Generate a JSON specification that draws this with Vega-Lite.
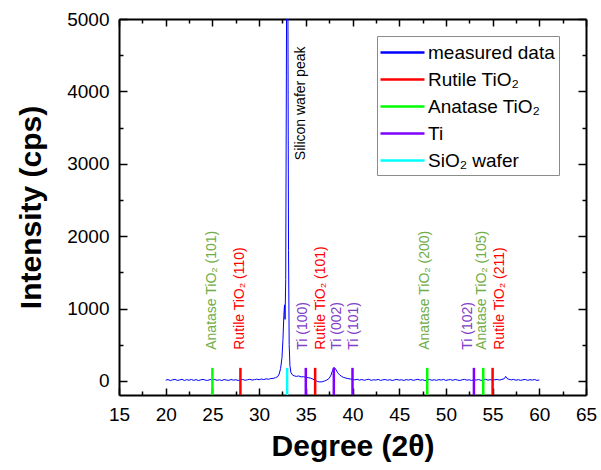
{
  "$schema": "https://vega.github.io/schema/vega-lite/v6.json",
  "width": 467,
  "height": 376,
  "autosize": {"type": "none"},
  "padding": {"left": 119, "top": 19, "right": 15, "bottom": 75},
  "background": "white",
  "config": {
    "font": "Liberation Sans",
    "view": {"stroke": null},
    "axis": {
      "domainColor": "black",
      "domainWidth": 2,
      "tickColor": "black",
      "tickWidth": 1.5,
      "labelFont": "Liberation Sans",
      "labelFontSize": 19,
      "labelColor": "black",
      "titleFont": "Liberation Sans",
      "titleFontSize": 30,
      "titleFontWeight": "bold",
      "titleColor": "black",
      "grid": false,
      "labelOverlap": false,
      "labelFlush": false
    },
    "legend": {
      "orient": "none",
      "legendX": 258,
      "legendY": 17,
      "symbolType": "M-2,0H2",
      "symbolSize": 484,
      "symbolStrokeWidth": 2.5,
      "symbolOffset": 9,
      "labelFont": "Liberation Sans",
      "labelFontSize": 19,
      "labelColor": "black",
      "labelOffset": 13,
      "rowPadding": 4,
      "padding": 4,
      "strokeColor": "#8c8c8c",
      "fillColor": "white",
      "labelLimit": 300
    }
  },
  "datasets": {
    "measured": [
      {"deg": 20.0, "I": 10}, {"deg": 20.25, "I": 18}, {"deg": 20.5, "I": 4}, {"deg": 20.75, "I": 15},
      {"deg": 21.0, "I": 20}, {"deg": 21.25, "I": 6}, {"deg": 21.5, "I": 13}, {"deg": 21.75, "I": 22},
      {"deg": 22.0, "I": 5}, {"deg": 22.25, "I": 17}, {"deg": 22.5, "I": 9}, {"deg": 22.75, "I": 20},
      {"deg": 23.0, "I": 7}, {"deg": 23.25, "I": 18}, {"deg": 23.5, "I": 4}, {"deg": 23.75, "I": 14},
      {"deg": 24.0, "I": 21}, {"deg": 24.25, "I": 10}, {"deg": 24.5, "I": 6}, {"deg": 24.75, "I": 19},
      {"deg": 25.0, "I": 12}, {"deg": 25.25, "I": 20}, {"deg": 25.5, "I": 7}, {"deg": 25.75, "I": 16},
      {"deg": 26.0, "I": 5}, {"deg": 26.25, "I": 18}, {"deg": 26.5, "I": 12}, {"deg": 26.75, "I": 7},
      {"deg": 27.0, "I": 19}, {"deg": 27.25, "I": 10}, {"deg": 27.5, "I": 16}, {"deg": 27.75, "I": 6},
      {"deg": 28.0, "I": 13}, {"deg": 28.25, "I": 20}, {"deg": 28.5, "I": 8}, {"deg": 28.75, "I": 15},
      {"deg": 29.0, "I": 22}, {"deg": 29.25, "I": 11}, {"deg": 29.5, "I": 17}, {"deg": 29.75, "I": 24},
      {"deg": 30.0, "I": 16}, {"deg": 30.25, "I": 26}, {"deg": 30.5, "I": 18}, {"deg": 30.75, "I": 29},
      {"deg": 31.0, "I": 22}, {"deg": 31.25, "I": 32}, {"deg": 31.5, "I": 34}, {"deg": 31.75, "I": 44},
      {"deg": 32.0, "I": 60}, {"deg": 32.15, "I": 95}, {"deg": 32.3, "I": 170}, {"deg": 32.45, "I": 320},
      {"deg": 32.55, "I": 560}, {"deg": 32.65, "I": 900}, {"deg": 32.72, "I": 1050}, {"deg": 32.78, "I": 850},
      {"deg": 32.85, "I": 1400}, {"deg": 32.92, "I": 4200}, {"deg": 33.0, "I": 8000}, {"deg": 33.08, "I": 5500},
      {"deg": 33.15, "I": 1800}, {"deg": 33.22, "I": 500}, {"deg": 33.3, "I": 210}, {"deg": 33.4, "I": 120},
      {"deg": 33.55, "I": 85}, {"deg": 33.75, "I": 70}, {"deg": 34.0, "I": 62}, {"deg": 34.25, "I": 68},
      {"deg": 34.5, "I": 55}, {"deg": 34.75, "I": 58}, {"deg": 35.0, "I": 50}, {"deg": 35.25, "I": 45},
      {"deg": 35.5, "I": 38}, {"deg": 35.75, "I": 25}, {"deg": 36.0, "I": 8}, {"deg": 36.25, "I": -8},
      {"deg": 36.5, "I": -15}, {"deg": 36.75, "I": -12}, {"deg": 37.0, "I": -2}, {"deg": 37.25, "I": 12},
      {"deg": 37.5, "I": 35}, {"deg": 37.7, "I": 80}, {"deg": 37.85, "I": 140}, {"deg": 38.0, "I": 185},
      {"deg": 38.1, "I": 180}, {"deg": 38.25, "I": 150}, {"deg": 38.4, "I": 115}, {"deg": 38.6, "I": 85},
      {"deg": 38.8, "I": 65}, {"deg": 39.0, "I": 50}, {"deg": 39.25, "I": 40}, {"deg": 39.5, "I": 32},
      {"deg": 39.75, "I": 26}, {"deg": 40.0, "I": 22}, {"deg": 40.25, "I": 14}, {"deg": 40.5, "I": 22},
      {"deg": 40.75, "I": 10}, {"deg": 41.0, "I": 19}, {"deg": 41.25, "I": 8}, {"deg": 41.5, "I": 17},
      {"deg": 41.75, "I": 23}, {"deg": 42.0, "I": 7}, {"deg": 42.25, "I": 16}, {"deg": 42.5, "I": 11},
      {"deg": 42.75, "I": 21}, {"deg": 43.0, "I": 6}, {"deg": 43.25, "I": 15}, {"deg": 43.5, "I": 19},
      {"deg": 43.75, "I": 8}, {"deg": 44.0, "I": 17}, {"deg": 44.25, "I": 5}, {"deg": 44.5, "I": 14},
      {"deg": 44.75, "I": 21}, {"deg": 45.0, "I": 10}, {"deg": 45.25, "I": 16}, {"deg": 45.5, "I": 6},
      {"deg": 45.75, "I": 18}, {"deg": 46.0, "I": 11}, {"deg": 46.25, "I": 20}, {"deg": 46.5, "I": 7},
      {"deg": 46.75, "I": 15}, {"deg": 47.0, "I": 22}, {"deg": 47.25, "I": 10}, {"deg": 47.5, "I": 16},
      {"deg": 47.75, "I": 5}, {"deg": 48.0, "I": 13}, {"deg": 48.25, "I": 20}, {"deg": 48.5, "I": 8},
      {"deg": 48.75, "I": 16}, {"deg": 49.0, "I": 7}, {"deg": 49.25, "I": 18}, {"deg": 49.5, "I": 11},
      {"deg": 49.75, "I": 21}, {"deg": 50.0, "I": 6}, {"deg": 50.25, "I": 15}, {"deg": 50.5, "I": 17},
      {"deg": 50.75, "I": 8}, {"deg": 51.0, "I": 20}, {"deg": 51.25, "I": 11}, {"deg": 51.5, "I": 5},
      {"deg": 51.75, "I": 16}, {"deg": 52.0, "I": 21}, {"deg": 52.25, "I": 10}, {"deg": 52.5, "I": 15},
      {"deg": 52.75, "I": 6}, {"deg": 53.0, "I": 17}, {"deg": 53.25, "I": 11}, {"deg": 53.5, "I": 20},
      {"deg": 53.75, "I": 7}, {"deg": 54.0, "I": 15}, {"deg": 54.25, "I": 22}, {"deg": 54.5, "I": 10},
      {"deg": 54.75, "I": 17}, {"deg": 55.0, "I": 8}, {"deg": 55.25, "I": 16}, {"deg": 55.5, "I": 20},
      {"deg": 55.75, "I": 11}, {"deg": 56.0, "I": 21}, {"deg": 56.25, "I": 30}, {"deg": 56.4, "I": 62},
      {"deg": 56.55, "I": 32}, {"deg": 56.75, "I": 22}, {"deg": 57.0, "I": 14}, {"deg": 57.25, "I": 21},
      {"deg": 57.5, "I": 9}, {"deg": 57.75, "I": 17}, {"deg": 58.0, "I": 7}, {"deg": 58.25, "I": 15},
      {"deg": 58.5, "I": 20}, {"deg": 58.75, "I": 8}, {"deg": 59.0, "I": 16}, {"deg": 59.25, "I": 11},
      {"deg": 59.5, "I": 19}, {"deg": 59.75, "I": 6}, {"deg": 60.0, "I": 13}
    ],
    "refs": [
      {"deg": 25, "phase": "Anatase TiO₂", "label": "Anatase TiO₂ (101)", "lx": 25.0},
      {"deg": 28, "phase": "Rutile TiO₂", "label": "Rutile TiO₂ (110)", "lx": 27.95},
      {"deg": 33, "phase": "SiO₂ wafer", "label": "", "lx": 33},
      {"deg": 35, "phase": "Ti", "label": "Ti (100)", "lx": 34.7},
      {"deg": 36, "phase": "Rutile TiO₂", "label": "Rutile TiO₂ (101)", "lx": 36.6},
      {"deg": 38, "phase": "Ti", "label": "Ti (002)", "lx": 38.3},
      {"deg": 40, "phase": "Ti", "label": "Ti (101)", "lx": 40.15},
      {"deg": 48, "phase": "Anatase TiO₂", "label": "Anatase TiO₂ (200)", "lx": 47.8},
      {"deg": 53, "phase": "Ti", "label": "Ti (102)", "lx": 52.4},
      {"deg": 54, "phase": "Anatase TiO₂", "label": "Anatase TiO₂ (105)", "lx": 53.9},
      {"deg": 55, "phase": "Rutile TiO₂", "label": "Rutile TiO₂ (211)", "lx": 55.8}
    ]
  },
  "layer": [
    {
      "data": {"name": "measured"},
      "mark": {"type": "line", "strokeWidth": 1, "clip": true},
      "encoding": {
        "x": {
          "field": "deg", "type": "quantitative",
          "scale": {"domain": [15, 65], "nice": false, "zero": false},
          "axis": {
            "orient": "bottom",
            "title": "Degree (2θ)",
            "values": [15, 17.5, 20, 22.5, 25, 27.5, 30, 32.5, 35, 37.5, 40, 42.5, 45, 47.5, 50, 52.5, 55, 57.5, 60, 62.5, 65],
            "labelExpr": "datum.value % 5 === 0 ? datum.label : ''",
            "tickSize": {"condition": {"test": "datum.value % 5 === 0", "value": -7}, "value": -4},
            "labelPadding": 17,
            "titlePadding": 4
          }
        },
        "y": {
          "field": "I", "type": "quantitative",
          "scale": {"domain": [-195, 5000], "nice": false, "zero": false},
          "axis": {
            "orient": "left",
            "title": "Intensity (cps)",
            "values": [0, 500, 1000, 1500, 2000, 2500, 3000, 3500, 4000, 4500, 5000],
            "labelExpr": "datum.value % 1000 === 0 ? datum.label : ''",
            "format": "d",
            "tickSize": {"condition": {"test": "datum.value % 1000 === 0", "value": -8}, "value": -4},
            "labelPadding": 18,
            "titlePadding": 20
          }
        },
        "color": {
          "datum": "measured data",
          "type": "nominal",
          "scale": {
            "domain": ["measured data", "Rutile TiO₂", "Anatase TiO₂", "Ti", "SiO₂ wafer"],
            "range": ["#0000FF", "#FF0000", "#00FF00", "#8000FF", "#00FFFF"]
          },
          "legend": {"title": null}
        }
      }
    },
    {
      "data": {"name": "refs"},
      "mark": {"type": "rule", "strokeWidth": 2.5},
      "encoding": {
        "x": {
          "field": "deg", "type": "quantitative",
          "axis": {
            "orient": "top",
            "title": null,
            "labels": false,
            "values": [15, 17.5, 20, 22.5, 25, 27.5, 30, 32.5, 35, 37.5, 40, 42.5, 45, 47.5, 50, 52.5, 55, 57.5, 60, 62.5, 65],
            "tickSize": {"condition": {"test": "datum.value % 5 === 0", "value": -7}, "value": -4}
          }
        },
        "y": {
          "datum": -195, "type": "quantitative",
          "axis": {
            "orient": "right",
            "title": null,
            "labels": false,
            "values": [0, 500, 1000, 1500, 2000, 2500, 3000, 3500, 4000, 4500, 5000],
            "tickSize": {"condition": {"test": "datum.value % 1000 === 0", "value": -8}, "value": -4}
          }
        },
        "y2": {"datum": 180},
        "color": {"field": "phase", "type": "nominal", "legend": {"title": null}}
      }
    },
    {
      "data": {"name": "refs"},
      "transform": [{"filter": "datum.phase === 'Anatase TiO₂'"}],
      "mark": {"type": "text", "angle": 270, "align": "left", "baseline": "middle", "fontSize": 14, "color": "#70AD47", "font": "Liberation Sans"},
      "encoding": {
        "x": {"field": "lx", "type": "quantitative", "axis": null},
        "y": {"datum": 430, "type": "quantitative", "axis": null},
        "text": {"field": "label"}
      }
    },
    {
      "data": {"name": "refs"},
      "transform": [{"filter": "datum.phase === 'Rutile TiO₂'"}],
      "mark": {"type": "text", "angle": 270, "align": "left", "baseline": "middle", "fontSize": 14, "color": "#FF0000", "font": "Liberation Sans"},
      "encoding": {
        "x": {"field": "lx", "type": "quantitative", "axis": null},
        "y": {"datum": 430, "type": "quantitative", "axis": null},
        "text": {"field": "label"}
      }
    },
    {
      "data": {"name": "refs"},
      "transform": [{"filter": "datum.phase === 'Ti'"}],
      "mark": {"type": "text", "angle": 270, "align": "left", "baseline": "middle", "fontSize": 14, "color": "#8040C8", "font": "Liberation Sans"},
      "encoding": {
        "x": {"field": "lx", "type": "quantitative", "axis": null},
        "y": {"datum": 430, "type": "quantitative", "axis": null},
        "text": {"field": "label"}
      }
    },
    {
      "data": {"values": [{"lx": 34.5, "label": "Silicon wafer peak"}]},
      "mark": {"type": "text", "angle": 270, "align": "left", "baseline": "middle", "fontSize": 14, "color": "black", "font": "Liberation Sans"},
      "encoding": {
        "x": {"field": "lx", "type": "quantitative", "axis": null},
        "y": {"datum": 3050, "type": "quantitative", "axis": null},
        "text": {"field": "label"}
      }
    }
  ],
  "resolve": {"axis": {"x": "independent", "y": "independent"}}
}
